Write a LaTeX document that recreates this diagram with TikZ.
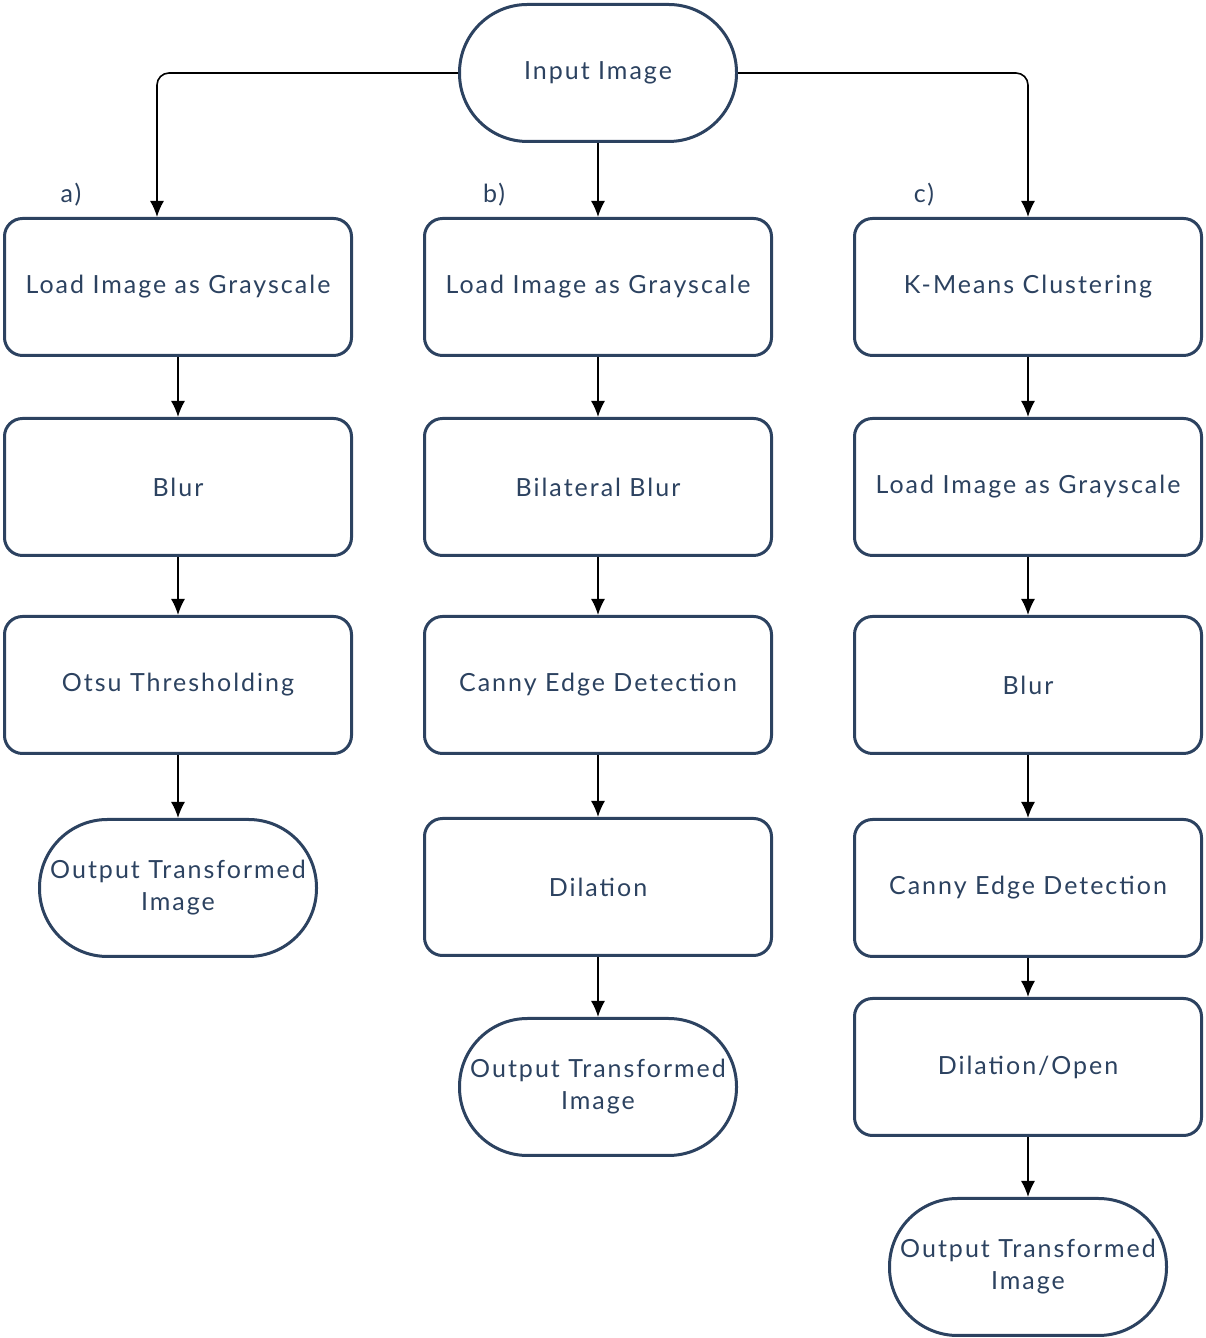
\documentclass[tikz,border=0pt]{standalone}
\usepackage{fontspec}
\setmainfont[LetterSpace=8]{Lato}
\usetikzlibrary{arrows.meta}
\definecolor{dkblue}{HTML}{2C4260}
\tikzset{
  box/.style={draw=dkblue,line width=3bp,rounded corners=18bp,
    minimum width=347bp,minimum height=137bp,inner sep=0bp,
    text=dkblue,font=\fontsize{25bp}{32bp}\selectfont},
  term/.style={box,rounded corners=68bp,minimum width=277bp,align=center},
  lbl/.style={text=dkblue,font=\fontsize{25bp}{32bp}\selectfont},
  link/.style={black,line width=1.6bp,->},
}
\begin{document}
\begin{tikzpicture}[>={Latex[length=16bp,width=14bp]},line join=bevel,]
\useasboundingbox (0bp,0bp) rectangle (1206bp,1338bp);
%%
\node (node_0) at (598bp,1265bp) [term] {Input Image};
  \node (node_a1) at (178bp,1051bp) [box] {Load Image as Grayscale};
  \node (node_a2) at (178bp,851bp) [box] {Blur};
  \node (node_a3) at (178bp,653bp) [box] {Otsu Thresholding};
  \node (node_a4) at (178bp,450bp) [term] {Output Transformed\\Image};
  \node (node_b1) at (598bp,1051bp) [box] {Load Image as Grayscale};
  \node (node_b2) at (598bp,851bp) [box] {Bilateral Blur};
  \node (node_b3) at (598bp,653bp) [box] {Canny Edge Detection};
  \node (node_b4) at (598bp,451bp) [box] {Dilation};
  \node (node_b5) at (598bp,251bp) [term] {Output Transformed\\Image};
  \node (node_c1) at (1028bp,1051bp) [box] {K-Means Clustering};
  \node (node_c2) at (1028bp,851bp) [box] {Load Image as Grayscale};
  \node (node_c3) at (1028bp,653bp) [box] {Blur};
  \node (node_c4) at (1028bp,450bp) [box] {Canny Edge Detection};
  \node (node_c5) at (1028bp,271bp) [box] {Dilation/Open};
  \node (node_c6) at (1028bp,71bp) [term] {Output Transformed\\Image};
  \node (lbl_a) at (71bp,1143bp) [lbl] {a)};
  \node (lbl_b) at (494bp,1143bp) [lbl] {b)};
  \node (lbl_c) at (924bp,1143bp) [lbl] {c)};
  \draw [link,rounded corners=12bp] (node_0.west) -| ([xshift=-21bp]node_a1.north);
  \draw [link] (node_0) -- (node_b1);
  \draw [link,rounded corners=12bp] (node_0.east) -| (node_c1.north);
  \draw [link] (node_a1) -- (node_a2);
  \draw [link] (node_a2) -- (node_a3);
  \draw [link] (node_a3) -- (node_a4);
  \draw [link] (node_b1) -- (node_b2);
  \draw [link] (node_b2) -- (node_b3);
  \draw [link] (node_b3) -- (node_b4);
  \draw [link] (node_b4) -- (node_b5);
  \draw [link] (node_c1) -- (node_c2);
  \draw [link] (node_c2) -- (node_c3);
  \draw [link] (node_c3) -- (node_c4);
  \draw [link] (node_c4) -- (node_c5);
  \draw [link] (node_c5) -- (node_c6);
%
\end{tikzpicture}
\end{document}
